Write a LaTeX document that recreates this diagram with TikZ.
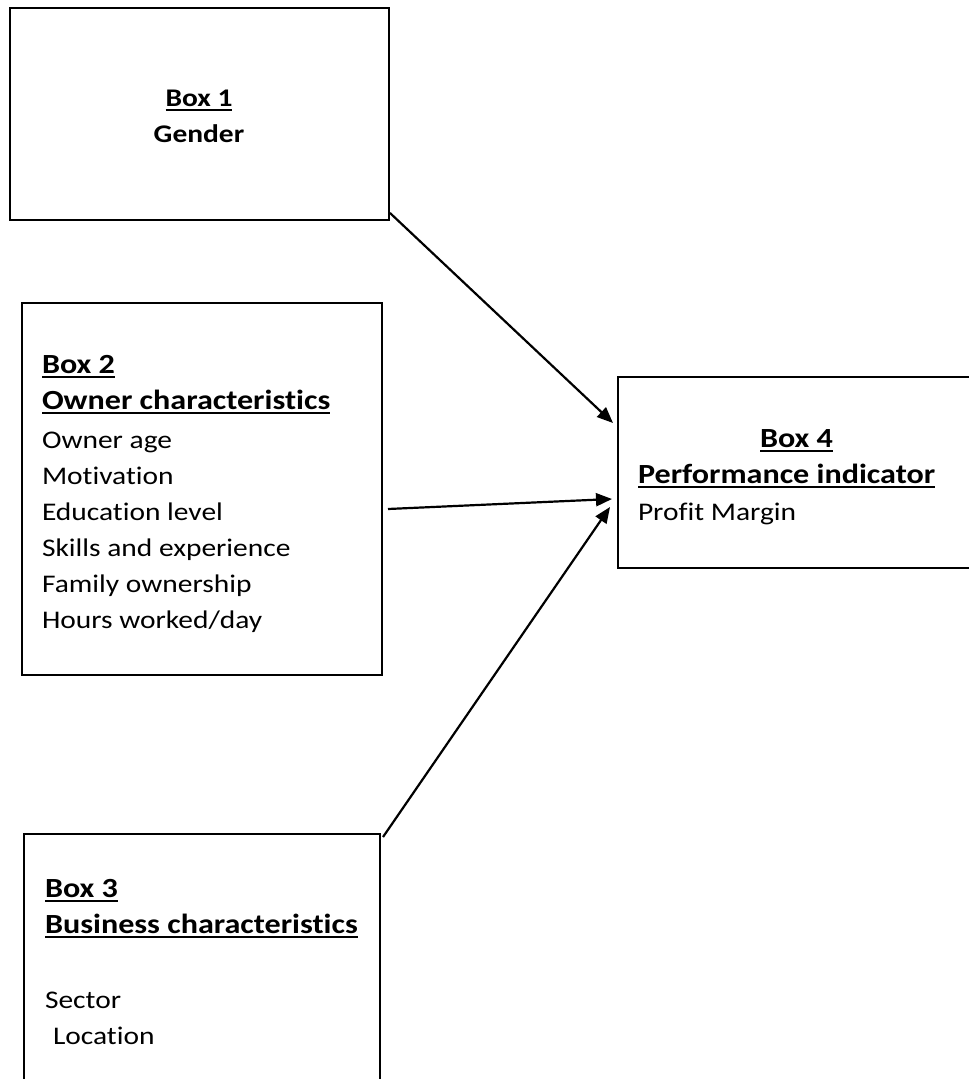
\documentclass[tikz,border=0pt]{standalone}
\usepackage{fontspec}
\setmainfont{Carlito}[FakeStretch=1.16,Ligatures=NoCommon]
\usetikzlibrary{arrows.meta}
\newcommand\myul[1]{\setbox0\hbox{#1}\rlap{\rule[-4.8pt]{\wd0}{2.3pt}}\box0}
\newcommand\bl[1]{{\fontsize{27.7}{36}\selectfont\bfseries #1}}
\newcommand\bs[1]{{\fontsize{25.4}{36}\selectfont\bfseries #1}}
\begin{document}
\begin{tikzpicture}[x=1pt,y=-1pt,
  box/.style={draw,line width=2pt,anchor=north west,inner sep=0pt,outer sep=0pt},
  txt/.style={anchor=north west,inner sep=0pt,outer sep=0pt,align=left,font=\fontsize{25.4}{36}\selectfont},
  arr/.style={line width=2.2pt,-{Triangle[length=16pt,width=13pt]}}]
\useasboundingbox (0,0) rectangle (969,1079);
\clip (0,0) rectangle (969,1079);
\fill[white] (0,0) rectangle (969,1079);
% boxes
\node[box,minimum width=379pt,minimum height=212pt] (b1) at (10,8) {};
\node[box,minimum width=360pt,minimum height=372pt] (b2) at (22,303) {};
\node[box,minimum width=356pt,minimum height=266pt] (b3) at (24,834) {};
\node[box,minimum width=372pt,minimum height=191pt] (b4) at (618,377) {};
% texts
\node[txt,anchor=north,align=center] (t1) at (199,82)
  {\rule{0pt}{24pt}\bs{\myul{Box 1}}\\\bs{Gender}};
\node[txt] (t2) at (42,349)
  {\rule{0pt}{24pt}\bl{\myul{Box 2}}\\
   \bl{\myul{Owner characteristics}}\\[3pt]
   Owner age\\ Motivation\\ Education level\\ Skills and experience\\
   Family ownership\\ Hours worked/day};
\node[txt] (t3) at (45,873)
  {\rule{0pt}{24pt}\bl{\myul{Box 3}}\\
   \bl{\myul{Business characteristics}}\\[39pt]
   Sector\\ \hspace*{8pt}Location};
\node[txt] (t4) at (638,423)
  {\rule{0pt}{24pt}\hspace*{122pt}\bl{\myul{Box 4}}\\
   \bl{\myul{Performance indicator}}\\[1pt]
   Profit Margin};
% connectors
\draw[arr] ([xshift=1pt,yshift=7pt]b1.south east) -- ([xshift=-5pt,yshift=-46pt]b4.north west);
\draw[arr] ([xshift=6pt,yshift=-206pt]b2.north east) -- ([xshift=-6pt,yshift=-122pt]b4.north west);
\draw[arr] ([xshift=3pt,yshift=-3pt]b3.north east) -- ([xshift=-8pt,yshift=-130pt]b4.north west);
\end{tikzpicture}
\end{document}
